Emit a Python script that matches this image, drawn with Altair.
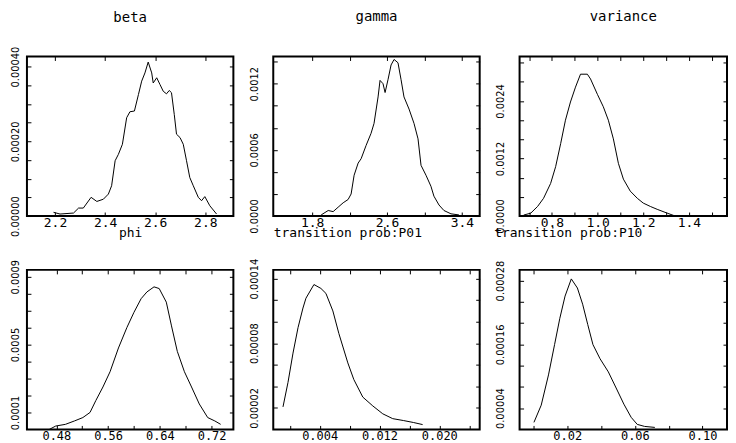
import altair as alt
import pandas as pd

# ---------------- data ----------------
beta_x = [2.194, 2.220, 2.274, 2.294, 2.313, 2.344, 2.367, 2.393, 2.413, 2.426, 2.440, 2.453, 2.469,
          2.486, 2.499, 2.517, 2.533, 2.546, 2.559, 2.572, 2.586, 2.592, 2.606, 2.619, 2.632, 2.645,
          2.656, 2.665, 2.676, 2.685, 2.699, 2.712, 2.725, 2.738, 2.752, 2.772, 2.785, 2.798, 2.818, 2.845]
beta_y = [0.00001, 0.0000053, 0.000008, 0.0000213, 0.0000213, 0.00005, 0.000039, 0.000045, 0.0000587,
          0.000081, 0.000148, 0.000165, 0.000192, 0.000263, 0.000279, 0.000281, 0.000325, 0.000361,
          0.000383, 0.000412, 0.000383, 0.000356, 0.00037, 0.000352, 0.000334, 0.000327, 0.000336,
          0.00033, 0.000272, 0.000219, 0.00021, 0.000192, 0.000148, 0.000103, 0.000081, 0.00005,
          0.000041, 0.000052, 0.0000275, 0.0000053]

gamma_x = [1.896, 1.971, 2.024, 2.077, 2.131, 2.184, 2.216, 2.248, 2.291, 2.323, 2.376, 2.429, 2.461,
           2.504, 2.525, 2.557, 2.579, 2.611, 2.643, 2.675, 2.717, 2.749, 2.781, 2.835, 2.888, 2.931,
           2.963, 3.016, 3.069, 3.101, 3.155, 3.208, 3.283, 3.368]
gamma_y = [0.00001, 0.00005, 0.00004, 0.00008, 0.00012, 0.00015, 0.0002, 0.00037, 0.00048, 0.00052,
           0.00064, 0.00075, 0.00084, 0.00108, 0.00123, 0.0012, 0.00112, 0.00124, 0.00137, 0.00142,
           0.00139, 0.00124, 0.00108, 0.00097, 0.00084, 0.0007, 0.00046, 0.00037, 0.00027, 0.00018,
           0.0001, 0.00005, 0.00002, 0.00001]

var_x = [0.676, 0.707, 0.737, 0.763, 0.794, 0.816, 0.838, 0.859, 0.881, 0.903, 0.925, 0.955, 0.969,
         0.999, 1.025, 1.047, 1.069, 1.091, 1.113, 1.143, 1.174, 1.200, 1.231, 1.261, 1.305, 1.340, 1.436]
var_y = [0.00002, 0.00006, 0.0002, 0.00037, 0.00068, 0.00103, 0.00151, 0.002, 0.00238, 0.00269,
         0.00296, 0.00296, 0.00286, 0.00254, 0.00228, 0.002, 0.00161, 0.0011, 0.00077, 0.00052,
         0.00037, 0.00027, 0.0002, 0.00014, 0.00006, 0.0, 0.0]

phi_x = [0.469, 0.479, 0.494, 0.508, 0.521, 0.532, 0.541, 0.552, 0.563, 0.576, 0.589, 0.600, 0.611,
         0.620, 0.631, 0.639, 0.650, 0.658, 0.667, 0.678, 0.689, 0.701, 0.714, 0.725, 0.734]
phi_y = [0.0, 0.00002, 0.00003, 0.00005, 0.00007, 0.0001, 0.00017, 0.00025, 0.00034, 0.00048, 0.0006,
         0.00069, 0.00077, 0.00081, 0.00084, 0.00083, 0.00075, 0.00061, 0.00046, 0.00034, 0.00025,
         0.00015, 0.00007, 0.00005, 0.00003]

p01_x = [-0.0009, -0.00023, 0.00044, 0.00111, 0.00177, 0.00217, 0.00324, 0.00417, 0.00484, 0.00577,
         0.00657, 0.00777, 0.00857, 0.00977, 0.01111, 0.01244, 0.01377, 0.01524, 0.01657, 0.01777]
p01_y = [0.0000209, 0.0000436, 0.0000708, 0.0000944, 0.0001126, 0.0001217, 0.0001344, 0.0001308,
         0.0001262, 0.0001099, 0.000089, 0.0000617, 0.0000463, 0.00003, 0.0000218, 0.0000145,
         0.00001, 0.0000082, 0.0000064, 0.0000045]

p10_x = [0.0003, 0.0046, 0.0089, 0.0125, 0.0156, 0.0187, 0.0224, 0.026, 0.0291, 0.0321, 0.0352,
         0.0394, 0.0443, 0.0492, 0.0535, 0.0578, 0.0614, 0.0657, 0.0718]
p10_y = [0.0000133, 0.0000456, 0.0001025, 0.0001595, 0.0002089, 0.0002507, 0.000283, 0.0002659,
         0.0002355, 0.0001975, 0.0001595, 0.0001329, 0.0001082, 0.000076, 0.0000475, 0.0000228,
         0.0000095, 0.0000057, 0.0000038]

# axis tick values / labels
beta_xticks = [2.2, 2.4, 2.6, 2.8]
beta_xlabels = ["2.2", "2.4", "2.6", "2.8"]
beta_yticks = [0.0, 0.00005, 0.0001, 0.00015, 0.0002, 0.00025, 0.0003, 0.00035, 0.0004]
beta_ylabels = ["0.00000", "0.00020", "0.00040"]

gamma_xticks = [1.8, 2.2, 2.6, 3.0, 3.4]
gamma_xlabels = ["1.8", "2.6", "3.4"]
gamma_yticks = [0.0, 0.0002, 0.0004, 0.0006, 0.0008, 0.001, 0.0012, 0.0014]
gamma_ylabels = ["0.0000", "0.0006", "0.0012"]

var_xticks = [0.7, 0.8, 0.9, 1.0, 1.1, 1.2, 1.3, 1.4, 1.5]
var_xlabels = ["0.8", "1.0", "1.2", "1.4"]
var_yticks = [0.0, 0.0004, 0.0008, 0.0012, 0.0016, 0.002, 0.0024, 0.0028, 0.0032]
var_ylabels = ["0.0000", "0.0012", "0.0024"]

phi_xticks = [0.48, 0.52, 0.56, 0.60, 0.64, 0.68, 0.72]
phi_xlabels = ["0.48", "0.56", "0.64", "0.72"]
phi_yticks = [0.0001, 0.0002, 0.0003, 0.0004, 0.0005, 0.0006, 0.0007, 0.0008, 0.0009]
phi_ylabels = ["0.0001", "0.0005", "0.0009"]

p01_xticks = [0.0, 0.004, 0.008, 0.012, 0.016, 0.020, 0.024]
p01_xlabels = ["0.004", "0.012", "0.020"]
p01_yticks = [0.00002, 0.00004, 0.00006, 0.00008, 0.0001, 0.00012, 0.00014]
p01_ylabels = ["0.00002", "0.00008", "0.00014"]

p10_xticks = [0.0, 0.02, 0.04, 0.06, 0.08, 0.10]
p10_xlabels = ["0.02", "0.06", "0.10"]
p10_yticks = [0.00004, 0.00008, 0.00012, 0.00016, 0.0002, 0.00024, 0.00028]
p10_ylabels = ["0.00004", "0.00016", "0.00028"]

MONO = "DejaVu Sans Mono"
NARROW = "DejaVu Sans Condensed"
W = [207, 207, 208]
H = 160


def label_expr(labels, fmt):
    arr = ",".join("'%s'" % s for s in labels)
    return "indexof([%s], format(datum.value, '%s')) >= 0 ? format(datum.value, '%s') : ''" % (arr, fmt, fmt)


def panel(xs, ys, xdom, ydom, xticks, xlabels, xfmt, yticks, ylabels, yfmt, w,
          title=None, title_offset=33, xtitle=None, ylabpad=14, xtitle_x=None, xlabsize=13):
    df = pd.DataFrame({"x": xs, "y": ys})
    xaxis_kw = dict(
        values=xticks, labelExpr=label_expr(xlabels, xfmt), labelFont=MONO, labelFontSize=xlabsize,
        labelColor="black", labelPadding=1, labelFlush=False, labelOverlap=False,
        ticks=False, domain=False, grid=True, gridColor="black", gridOpacity=1, gridWidth=1,
        gridDash=[4, H - 8, 4, 400],
        titleFont=MONO, titleFontSize=13, titleFontWeight="normal", titleColor="black", titlePadding=-3,
    )
    xaxis_kw["title"] = xtitle if xtitle else None
    if xtitle_x is not None:
        xaxis_kw["titleX"] = xtitle_x
        xaxis_kw["titleAlign"] = "left"
    xaxis = alt.Axis(**xaxis_kw)
    yaxis = alt.Axis(
        values=yticks, labelExpr=label_expr(ylabels, yfmt), labelFont=NARROW, labelFontSize=11,
        labelColor="black", labelAngle=270, labelAlign="center", labelBaseline="bottom",
        labelPadding=ylabpad, labelFlush=False, labelOverlap=False,
        ticks=False, domain=False, grid=True, gridColor="black", gridOpacity=1, gridWidth=1,
        gridDash=[4, w - 8, 4, 400], title=None,
    )
    ch = alt.Chart(df).mark_line(color="black", strokeWidth=1, clip=True).encode(
        x=alt.X("x:Q", scale=alt.Scale(domain=xdom, nice=False, zero=False), axis=xaxis),
        y=alt.Y("y:Q", scale=alt.Scale(domain=ydom, nice=False, zero=False), axis=yaxis),
        order=alt.Order("x:Q"),
    )
    props = dict(width=w, height=H)
    if title:
        props["title"] = alt.TitleParams(text=title, font=MONO, fontSize=14, fontWeight="normal",
                                         color="black", offset=title_offset, anchor="middle",
                                         frame="group")
    return ch.properties(**props)


c1 = panel(beta_x, beta_y, [2.088, 2.912], [0, 0.000427], beta_xticks, beta_xlabels, ".1f",
           beta_yticks, beta_ylabels, ".5f", W[0], title="beta", title_offset=21, xtitle="phi",
           ylabpad=6)
c2 = panel(gamma_x, gamma_y, [1.384, 3.59], [0, 0.001447], gamma_xticks, gamma_xlabels, ".1f",
           gamma_yticks, gamma_ylabels, ".4f", W[1], title="gamma", xtitle="transition prob:P01",
           xtitle_x=0)
c3 = panel(var_x, var_y, [0.658, 1.567], [0, 0.00333], var_xticks, var_xlabels, ".1f",
           var_yticks, var_ylabels, ".4f", W[2], title="variance", xtitle="transition prob:P10",
           xtitle_x=-26)
c4 = panel(phi_x, phi_y, [0.4345, 0.7537], [0, 0.00094], phi_xticks, phi_xlabels, ".2f",
           phi_yticks, phi_ylabels, ".4f", W[0], ylabpad=6, xlabsize=12)
c5 = panel(p01_x, p01_y, [-0.0022, 0.0254], [0, 0.000148], p01_xticks, p01_xlabels, ".3f",
           p01_yticks, p01_ylabels, ".5f", W[1], xlabsize=12)
c6 = panel(p10_x, p10_y, [-0.0082, 0.1145], [0, 0.0003], p10_xticks, p10_xlabels, ".2f",
           p10_yticks, p10_ylabels, ".5f", W[2], xlabsize=12)

chart = alt.concat(c1, c2, c3, c4, c5, c6, columns=3, spacing={"row": 54, "column": 40},
                   bounds="flush").properties(
    padding={"left": 0, "top": 0, "right": 0, "bottom": 0},
    background="white",
).configure_view(stroke="black", strokeWidth=2)

chart.save("out.html", embed_options={"renderer": "svg", "actions": False})
